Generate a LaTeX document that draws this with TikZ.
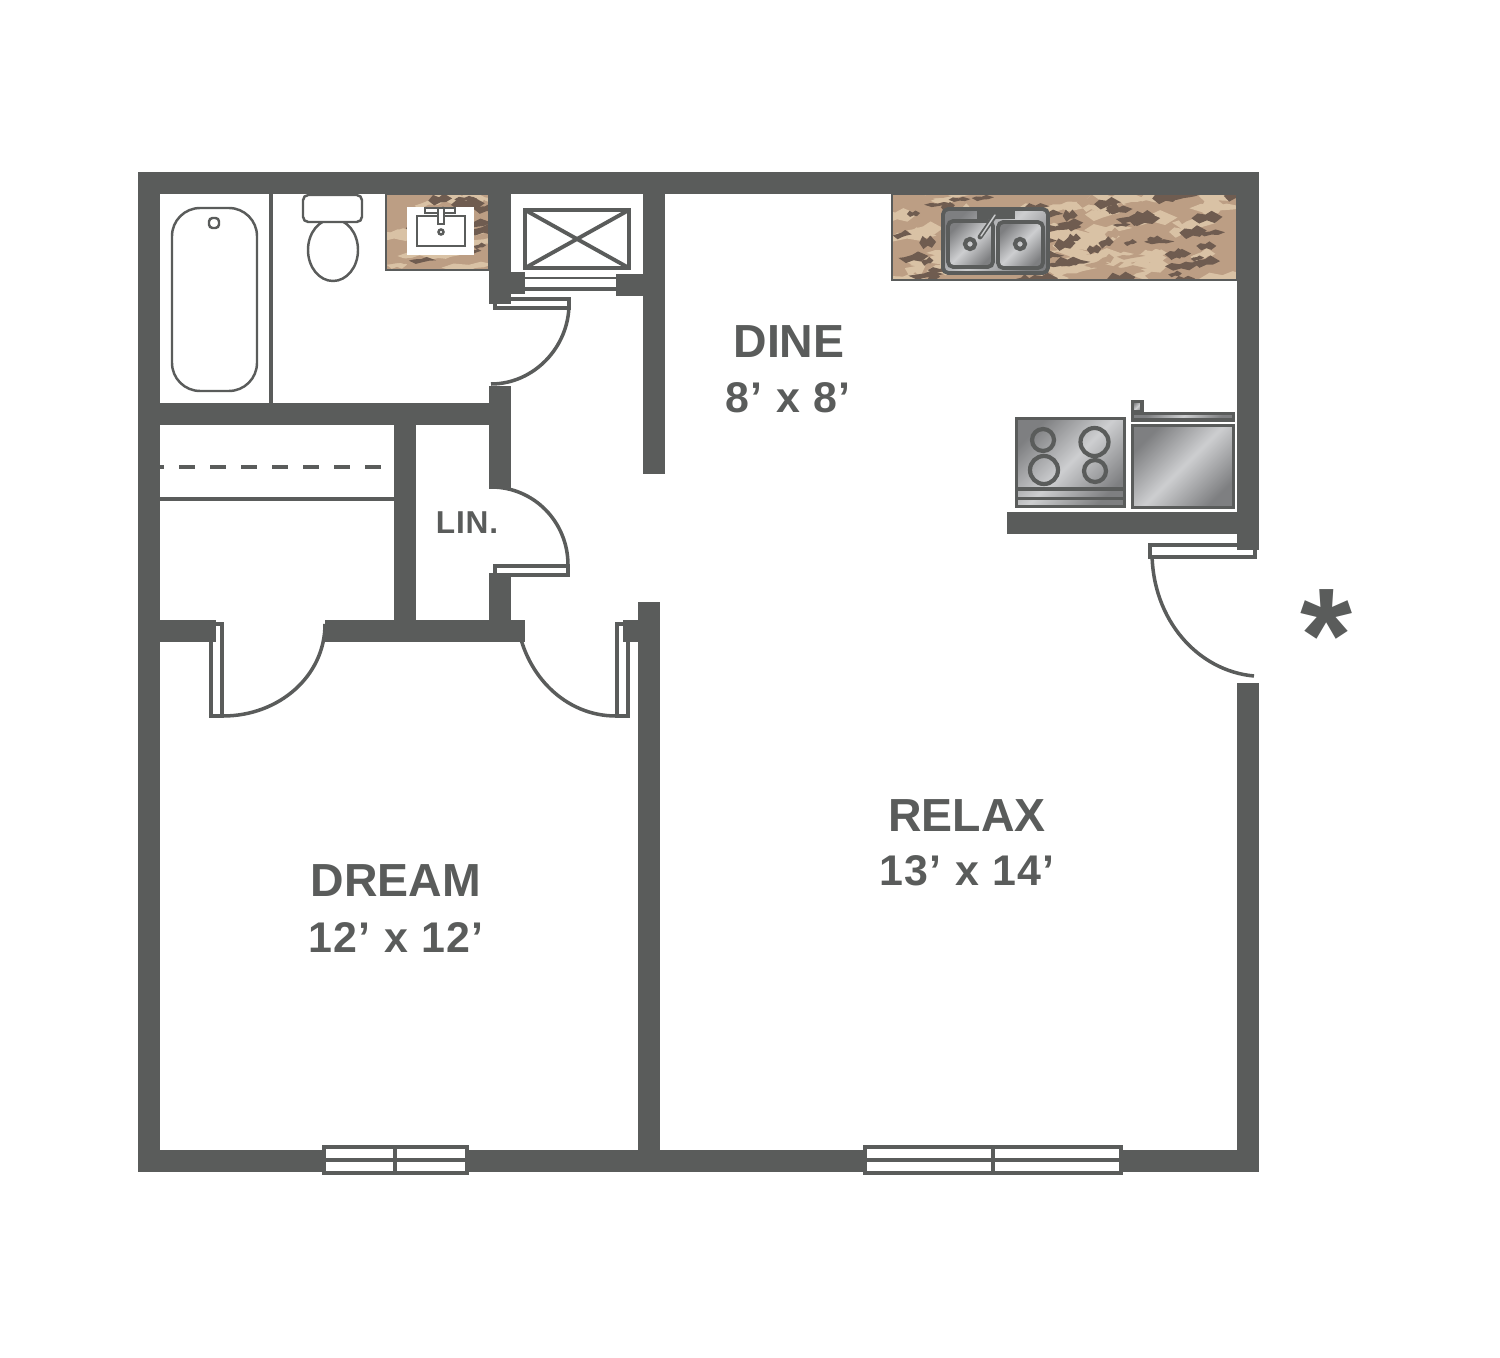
\documentclass[tikz,border=0pt]{standalone}
\usepackage{fontspec}
\setmainfont{Liberation Sans}
\newcommand{\dimfont}{\bfseries\addfontfeature{LetterSpace=3}}
\newcommand{\linfont}{\bfseries\addfontfeature{LetterSpace=2.5}}
\usetikzlibrary{positioning}
\definecolor{walldark}{HTML}{5A5C5B}
\definecolor{graniteone}{HTML}{BC9E84}
\definecolor{granitetwo}{HTML}{D9C2A5}
\definecolor{granitethree}{HTML}{6F5C50}
\definecolor{steeldark}{HTML}{7E7F81}
\definecolor{steellight}{HTML}{CDCED0}
\tikzset{wall/.style = {fill = walldark}}
\tikzset{thinline/.style = {draw = walldark, line width = 0.7pt}}
\tikzset{panel/.style = {draw = walldark, fill = white, line width = 0.9pt}}
\tikzset{swing/.style = {draw = walldark, line width = 1pt}}
\tikzset{sash/.style = {draw = walldark, line width = 1.1pt}}
\tikzset{ring/.style = {draw = walldark, line width = 1.2pt}}
\tikzset{steel/.style = {left color = steeldark, right color = steeldark, middle color = steellight, shading angle = 45}}
\tikzset{appliance/.style = {steel, draw = walldark, line width = 1.1pt}}
\tikzset{roomname/.style = {text = walldark, font = \fontsize{13.2}{15}\selectfont\bfseries, inner sep = 0}}
\tikzset{roomsize/.style = {text = walldark, font = \fontsize{12.2}{15}\selectfont\dimfont, inner sep = 0}}
\newcommand{\graniteblobs}[8]{
  \foreach \i in {1,...,#6} {
    \pgfmathsetmacro{\bx}{#1 + rnd*(#3 - #1)}
    \pgfmathsetmacro{\by}{#2 + rnd*(#4 - #2)}
    \pgfmathsetmacro{\bw}{#7*(0.4 + rnd)}
    \pgfmathsetmacro{\bh}{#8*(0.4 + rnd)}
    \fill [fill = #5] ({\bx - \bw}, {\by + 0.2*\bh*rnd}) -- ({\bx - 0.6*\bw}, {\by - \bh*rnd})
      -- ({\bx - 0.1*\bw}, {\by - 0.4*\bh}) -- ({\bx + 0.3*\bw}, {\by - \bh})
      -- ({\bx + \bw}, {\by - 0.3*\bh*rnd}) -- ({\bx + 0.5*\bw}, {\by + \bh*rnd})
      -- ({\bx}, {\by + 0.5*\bh}) -- ({\bx - 0.5*\bw}, {\by + \bh}) -- cycle;
  }
}
\newcommand{\granite}[6]{
  \begin{scope}
    \clip (#1, #2) rectangle (#3, #4);
    \fill [fill = graniteone] (#1, #2) rectangle (#3, #4);
    \graniteblobs{#1}{#2}{#3}{#4}{granitetwo}{#5}{24}{8}
    \graniteblobs{#1}{#2}{#3}{#4}{graniteone}{#5}{14}{5}
    \graniteblobs{#1}{#2}{#3}{#4}{granitethree}{#6}{13}{5}
  \end{scope}
  \draw [thinline] (#1, #2) rectangle (#3, #4);
}
\begin{document}
\begin{tikzpicture}[x = 0.01cm, y = -0.01cm]
  \useasboundingbox (0, 0) rectangle (1500, 1358);
  \pgfmathsetseed{4711}

  % counters
  \granite{386}{194}{489}{270}{14}{16}
  \granite{892}{194}{1237}{280}{55}{70}

  % kitchen sink
  \draw [appliance, rounded corners = 1.5pt] (943, 209) rectangle (1048, 273);
  \draw [appliance, rounded corners = 1.5pt] (948, 221) rectangle (993, 267);
  \draw [appliance, rounded corners = 1.5pt] (998, 222) rectangle (1043, 268);
  \fill [fill = walldark] (977, 211) rectangle (1015, 219);
  \draw [draw = walldark, line width = 1.4pt, line cap = round] (980, 237) -- (996, 214);
  \draw [draw = steellight, line width = 0.4pt, line cap = round] (981, 236) -- (995, 215);
  \draw [ring] (970, 244) circle [radius = 5];
  \draw [ring] (1020, 244) circle [radius = 5];

  % vanity
  \draw [draw = white, fill = white] (408, 208) rectangle (473, 254);
  \draw [thinline] (417, 216) rectangle (465, 246);
  \draw [thinline, fill = white] (425, 208) rectangle (455, 213);
  \draw [thinline, fill = white] (438, 208) rectangle (444, 224);
  \draw [thinline] (441, 232) circle [radius = 2.5];

  % tub and toilet
  \draw [thinline, rounded corners = 8pt] (172, 208) rectangle (257, 391);
  \draw [thinline, rounded corners = 1pt] (209, 218) rectangle (219, 228);
  \draw [thinline] (333, 250) circle [x radius = 25, y radius = 31];
  \draw [thinline, fill = white, rounded corners = 1.5pt] (303, 195) rectangle (362, 222);
  \fill [wall] (269, 194) rectangle (273, 403);

  % shower
  \draw [draw = walldark, line width = 1.1pt] (525, 210) rectangle (629, 268);
  \draw [draw = walldark, line width = 1.1pt] (525, 210) -- (629, 268);
  \draw [draw = walldark, line width = 1.1pt] (525, 268) -- (629, 210);
  \draw [draw = walldark, line width = 0.7pt] (522, 278) -- (618, 278);
  \draw [draw = walldark, line width = 1.1pt] (522, 289) -- (618, 289);

  % closet shelf and rod
  \fill [wall] (160, 497) rectangle (394, 501);
  \draw [draw = walldark, line width = 1.1pt, dash pattern = on 4.55pt off 4.27pt, dash phase = 3.41pt] (160, 467) -- (383, 467);

  % door swings
  \draw [swing] (569, 304) .. controls (569, 347) and (534, 384) .. (491, 384);
  \draw [swing] (491, 487) .. controls (534, 487) and (568, 522) .. (568, 565);
  \draw [swing] (223, 716) .. controls (279, 716) and (325, 676) .. (325, 624);
  \draw [swing] (518, 626) .. controls (526, 675) and (565, 716) .. (616, 716);
  \draw [swing] (1152, 552) .. controls (1152, 620) and (1198, 671) .. (1254, 676);

  % door leaves
  \draw [panel] (495, 299) rectangle (569, 308);
  \draw [panel] (495, 566) rectangle (568, 575);
  \draw [panel] (211, 624) rectangle (222, 716);
  \draw [panel] (617, 624) rectangle (628, 716);
  \draw [panel] (1150, 545) rectangle (1255, 557);

  % walls
  \fill [wall] (138, 172) rectangle (1259, 194);
  \fill [wall] (138, 172) rectangle (160, 1172);
  \fill [wall] (138, 1150) rectangle (1259, 1172);
  \fill [wall] (1237, 172) rectangle (1259, 550);
  \fill [wall] (1237, 683) rectangle (1259, 1172);
  \fill [wall] (160, 403) rectangle (511, 425);
  \fill [wall] (489, 194) rectangle (511, 304);
  \fill [wall] (489, 272) rectangle (525, 294);
  \fill [wall] (616, 274) rectangle (643, 296);
  \fill [wall] (643, 194) rectangle (665, 474);
  \fill [wall] (489, 386) rectangle (511, 489);
  \fill [wall] (489, 573) rectangle (511, 620);
  \fill [wall] (394, 425) rectangle (416, 620);
  \fill [wall] (160, 620) rectangle (216, 642);
  \fill [wall] (325, 620) rectangle (525, 642);
  \fill [wall] (623, 620) rectangle (638, 642);
  \fill [wall] (638, 602) rectangle (660, 1150);
  \fill [wall] (1007, 512) rectangle (1237, 534);

  % stove
  \draw [appliance] (1016.5, 418.5) rectangle (1124.5, 506.5);
  \draw [ring] (1043, 440) circle [radius = 11];
  \draw [ring] (1094.5, 442) circle [radius = 14];
  \draw [ring] (1044, 470) circle [radius = 14];
  \draw [ring] (1095, 471) circle [radius = 11];
  \fill [fill = walldark] (1016, 487) rectangle (1125, 491);
  \fill [fill = walldark] (1016, 497) rectangle (1125, 500);

  % fridge
  \draw [appliance] (1132.5, 425.5) rectangle (1233.5, 507.5);
  \draw [appliance] (1132.5, 413.5) rectangle (1233.5, 420);
  \draw [appliance] (1132.5, 401.5) rectangle (1142, 412);

  % windows
  \draw [panel, sash] (324, 1147) rectangle (467, 1173);
  \draw [sash] (324, 1160) -- (467, 1160);
  \draw [sash] (395, 1147) -- (395, 1173);
  \draw [panel, sash] (865, 1147) rectangle (1121, 1173);
  \draw [sash] (865, 1160) -- (1121, 1160);
  \draw [sash] (993, 1147) -- (993, 1173);

  % labels
  \node (dine) at (789, 342) [roomname] {DINE};
  \node (dinesize) at (788, 398) [roomsize] {8’ x 8’};
  \node (relax) at (967, 816) [roomname] {RELAX};
  \node (relaxsize) at (967, 871) [roomsize] {13’ x 14’};
  \node (dream) at (396, 881) [roomname] {DREAM};
  \node (dreamsize) at (396, 938) [roomsize] {12’ x 12’};
  \node (linen) at (467, 523) [text = walldark, inner sep = 0, font = \fontsize{9}{10}\selectfont\linfont] {LIN.};
  \node (entry) at (1326, 636) [text = walldark, inner sep = 0, font = \fontsize{38}{44}\selectfont\bfseries] {*};
\end{tikzpicture}
\end{document}
